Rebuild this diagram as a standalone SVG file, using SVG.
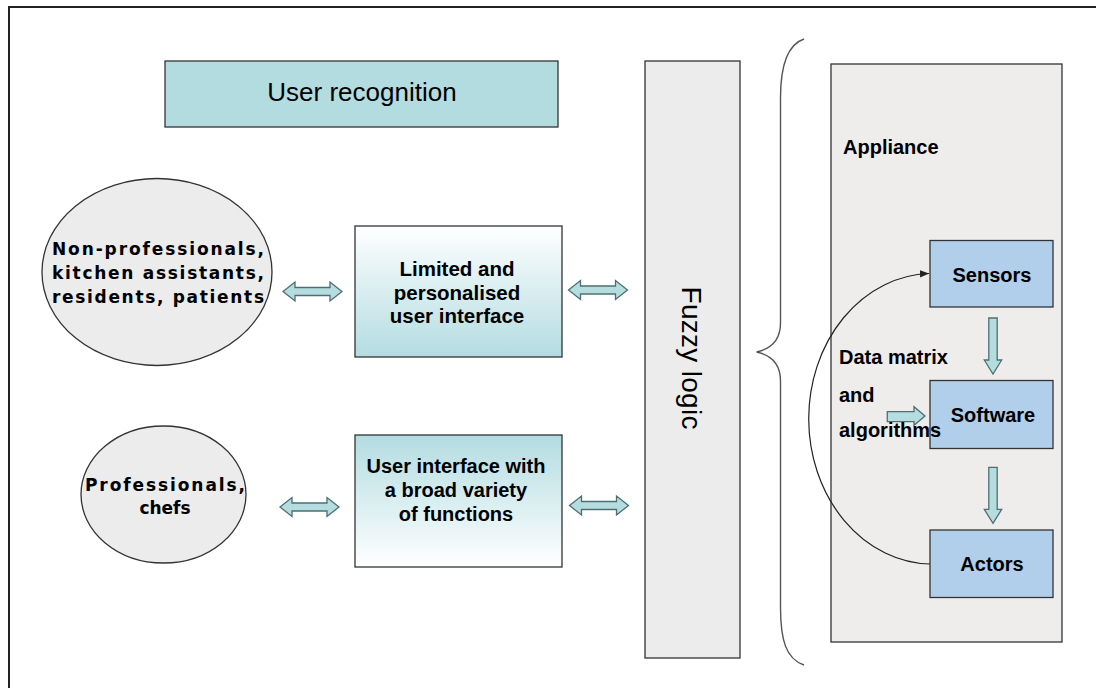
<svg xmlns="http://www.w3.org/2000/svg" width="1096" height="688" viewBox="0 0 1096 688">
<style>
.sans{font-family:"Liberation Sans",Arial,sans-serif;fill:#000}
.b{font-weight:bold}
.ell{font-family:"DejaVu Sans",Verdana,sans-serif;font-weight:bold;font-size:17px;fill:#000}
.box{stroke:#333;stroke-width:1.3}
.arr{fill:#b5dde0;stroke:#4e6f72;stroke-width:1.3}
.blue{fill:#b1cfea;stroke:#333;stroke-width:1.3}
</style>
<defs>
<linearGradient id="gDown" x1="0" y1="0" x2="0" y2="1">
<stop offset="0" stop-color="#ffffff"/>
<stop offset="1" stop-color="#b3dce1"/>
</linearGradient>
<linearGradient id="gUp" x1="0" y1="0" x2="0" y2="1">
<stop offset="0" stop-color="#b3dce1"/>
<stop offset="1" stop-color="#ffffff"/>
</linearGradient>
<path id="dbl" class="arr" d="M-29.5,0 L-17.5,-9.5 L-17.5,-4 L17.5,-4 L17.5,-9.5 L29.5,0 L17.5,9.5 L17.5,4 L-17.5,4 L-17.5,9.5 Z"/>
<path id="down" class="arr" d="M-4.2,0 H4.2 V42 H8.7 L0,56 L-8.7,42 H-4.2 Z"/>
<marker id="tip" viewBox="0 0 10 10" refX="10" refY="5" markerWidth="9" markerHeight="9" markerUnits="userSpaceOnUse" orient="auto">
<path d="M0,1 L10,5 L0,9 Z" fill="#222"/>
</marker>
</defs>

<rect x="9" y="7" width="1100" height="700" fill="#fff" stroke="#222" stroke-width="2"/>

<g id="user-recognition">
<rect class="box" x="165" y="61" width="393" height="66" fill="#b2dce0"/>
<text class="sans" x="362" y="101" font-size="26" text-anchor="middle">User recognition</text>
</g>

<g id="non-professionals">
<ellipse class="box" cx="157" cy="272" rx="115" ry="93.5" fill="#ececec"/>
<text class="ell" x="158" y="255" text-anchor="middle" textLength="212">Non-professionals,</text>
<text class="ell" x="158" y="279" text-anchor="middle" textLength="212">kitchen assistants,</text>
<text class="ell" x="158" y="303" text-anchor="middle" textLength="212">residents, patients</text>
</g>

<g id="professionals">
<ellipse class="box" cx="163.5" cy="494.5" rx="82.5" ry="68.5" fill="#ececec"/>
<text class="ell" x="165" y="491" text-anchor="middle" textLength="160">Professionals,</text>
<text class="ell" x="165" y="514" text-anchor="middle">chefs</text>
</g>

<g id="limited-ui">
<rect class="box" x="355" y="226" width="207" height="131" fill="url(#gDown)"/>
<text class="sans b" x="457" y="276" font-size="20.5" text-anchor="middle">Limited and</text>
<text class="sans b" x="457" y="300" font-size="20.5" text-anchor="middle">personalised</text>
<text class="sans b" x="457" y="323" font-size="20.5" text-anchor="middle">user interface</text>
</g>

<g id="broad-ui">
<rect class="box" x="355" y="435" width="207" height="132" fill="url(#gUp)"/>
<text class="sans b" x="456" y="473" font-size="20" text-anchor="middle">User interface with</text>
<text class="sans b" x="456" y="497" font-size="20" text-anchor="middle">a broad variety</text>
<text class="sans b" x="456" y="521" font-size="20" text-anchor="middle">of functions</text>
</g>

<g id="fuzzy-logic">
<rect class="box" x="645" y="61" width="95" height="597" fill="#ececec"/>
<text class="sans" transform="translate(682,358) rotate(90)" font-size="28" text-anchor="middle" textLength="143">Fuzzy logic</text>
</g>

<g id="brace">
<path d="M804,39 C786,45 780.5,68 780.5,98 L780.5,323 C780.5,341 770,349 756.6,352 C770,355 780.5,363 780.5,381 L780.5,607 C780.5,640 786,659 804,665" fill="none" stroke="#555" stroke-width="1.4"/>
</g>

<g id="appliance">
<rect class="box" x="831" y="64" width="231" height="578" fill="#efecec"/>
<text class="sans b" x="843" y="154" font-size="20">Appliance</text>
</g>

<g id="sensors">
<rect class="blue" x="930" y="240.5" width="123" height="66.5"/>
<text class="sans b" x="992" y="281.5" font-size="20" text-anchor="middle">Sensors</text>
</g>

<g id="software">
<rect class="blue" x="930" y="380.5" width="123" height="68"/>
<text class="sans b" x="993" y="421.5" font-size="20" text-anchor="middle">Software</text>
</g>

<g id="actors">
<rect class="blue" x="930" y="530" width="123" height="67.5"/>
<text class="sans b" x="992" y="571" font-size="20" text-anchor="middle">Actors</text>
</g>

<g id="connectors">
<use href="#dbl" x="312.5" y="291.5"/>
<use href="#dbl" x="598" y="290"/>
<use href="#dbl" x="309.5" y="507"/>
<use href="#dbl" x="599" y="505.5"/>
<use href="#down" x="993" y="318"/>
<use href="#down" x="993" y="467.3"/>
<path class="arr" d="M887.3,411.7 H914 V406.7 L925,416 L914,425.3 V421.7 H887.3 Z"/>
<path d="M930,564 A124 145.3 0 0 1 929,273.5" fill="none" stroke="#222" stroke-width="1.2" marker-end="url(#tip)"/>
</g>

<g id="data-matrix-label">
<text class="sans b" x="839" y="363.5" font-size="20">Data matrix</text>
<text class="sans b" x="839" y="401.5" font-size="20">and</text>
<text class="sans b" x="839" y="436.5" font-size="20">algorithms</text>
</g>
</svg>
